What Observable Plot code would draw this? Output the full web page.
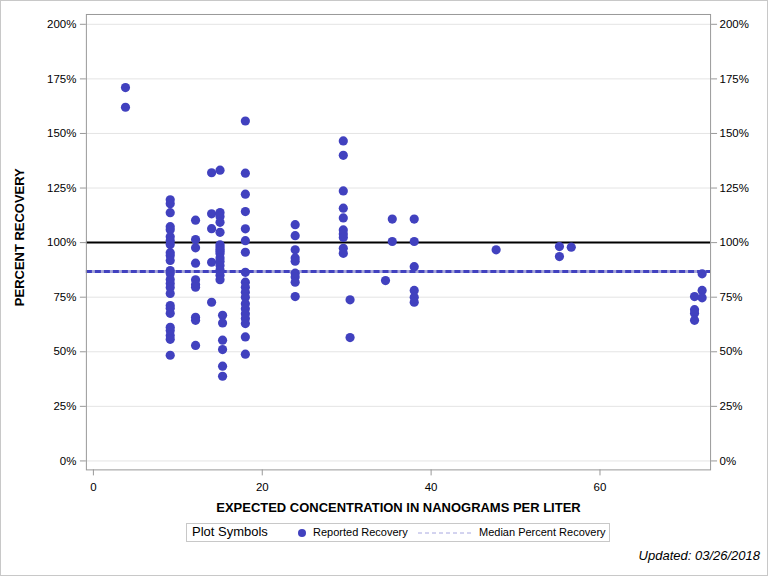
<!DOCTYPE html>
<html>
<head>
<meta charset="utf-8">
<script src="https://cdn.jsdelivr.net/npm/d3@7"></script>
<script src="https://cdn.jsdelivr.net/npm/@observablehq/plot@0.6"></script>
<style>
  html, body { margin: 0; padding: 0; background: #fff; }
  #wrap { position: relative; width: 766px; height: 574px; border: 1px solid #c8c8c8; overflow: hidden;
          font-family: "Liberation Sans", Arial, sans-serif; }
  #chart { position: absolute; left: -1px; top: -1px; }
  #legend { position: absolute; left: 185px; top: 522px; width: 422px; height: 17px; border: 1px solid #c8c8c8;
            font-size: 11px; color: #000; }
  #legend span { position: absolute; top: 2px; white-space: nowrap; }
  #updated { position: absolute; right: 7px; top: 547px; font-size: 13px; font-style: italic; color: #000; }
</style>
</head>
<body>
<div id="wrap">
  <div id="chart"></div>
  <div id="legend"></div>
  <div id="updated">Updated: 03/26/2018</div>
</div>
<script>
// ---- data ----
const concentrations = [3.8, 9.1, 12.1, 14.0, 15.0, 15.3, 18.0, 23.9, 29.6, 30.4, 34.6, 35.4, 38.0, 47.7, 55.2, 56.6, 71.2, 72.1];
const recoveries = [
  [171, 162],
  [119.6, 117.8, 113.7, 107.3, 105.9, 102.7, 100.9, 99.1, 95.4, 94.1, 91.8, 87.2, 85.8, 83.1, 81.3, 79.5, 76.7, 71.2, 69.9, 67.6, 61.2, 59.8, 57.5, 55.7, 48.4],
  [110.3, 101.4, 97.6, 90.6, 83, 80.8, 79.6, 65.8, 64.4, 52.9],
  [132, 113.2, 106.4, 91, 72.7],
  [133.2, 113.8, 112, 109.3, 104.7, 99, 98, 97, 96, 95, 93, 91.5, 89.5, 87.5, 85, 83],
  [66.7, 63.2, 55.3, 51, 43.4, 38.8],
  [155.7, 131.8, 122.2, 114.2, 106.3, 100.9, 95.6, 86.4, 81.9, 79.6, 77.3, 75, 72, 69.7, 67.4, 65.2, 62.9, 56.8, 48.9],
  [108.2, 103.2, 96.7, 93, 91.5, 86, 84.2, 81.9, 75.3],
  [146.6, 140, 123.7, 115.8, 111.3, 105.8, 104, 102.4, 97.4, 95.1],
  [73.8, 56.5],
  [82.6],
  [110.8, 100.5],
  [110.8, 100.5, 89, 78.1, 75, 72.7],
  [96.7],
  [98.2, 93.6],
  [97.9],
  [75.3, 69.3, 67.7, 64.4],
  [85.7, 78.1, 74.7]
];
const medianRecovery = 86.8;
const referenceRecovery = 100;
const xTicks = [0, 20, 40, 60];
const yTicks = [0, 25, 50, 75, 100, 125, 150, 175, 200];
const xTitle = "EXPECTED CONCENTRATION IN NANOGRAMS PER LITER";
const yTitle = "PERCENT RECOVERY";

const points = concentrations.flatMap((c, i) => recoveries[i].map(r => ({conc: c, rec: r})));

const blue = "#4141bf";
const font = "\"Liberation Sans\", Arial, sans-serif";

const chart = Plot.plot({
  width: 768,
  height: 516,
  marginLeft: 86,
  marginRight: 57,
  marginTop: 14,
  marginBottom: 46,
  style: {fontFamily: font, fontSize: "11.5px", color: "#000", background: "transparent"},
  x: {domain: [-0.83, 73.1]},
  y: {domain: [-4.1, 204.5]},
  marks: [
    Plot.gridY(yTicks, {stroke: "#e4e4e4", strokeOpacity: 1}),
    Plot.ruleY([referenceRecovery], {stroke: "#000", strokeWidth: 2}),
    Plot.ruleY([medianRecovery], {stroke: "#a8a8d8", strokeWidth: 3}),
    Plot.ruleY([medianRecovery], {stroke: blue, strokeWidth: 3, strokeDasharray: "6,3"}),
    Plot.dot(points, {x: "conc", y: "rec", r: 4.6, fill: blue, stroke: "none"}),
    Plot.frame({stroke: "#999"}),
    Plot.axisX(xTicks, {label: null, tickSize: 6, stroke: "#999", tickPadding: 7, fontSize: 11.5}),
    Plot.axisY(yTicks, {anchor: "left", label: null, tickSize: 6, stroke: "#999", tickPadding: 4, tickFormat: d => d + "%", fontSize: 11.5}),
    Plot.axisY(yTicks, {anchor: "right", label: null, tickSize: 6, stroke: "#999", tickFormat: d => d + "%", fontSize: 11.5}),
    Plot.text([xTitle], {frameAnchor: "bottom", dy: 42, fontWeight: "bold", fontSize: 13, fill: "#000"}),
    Plot.text([yTitle], {frameAnchor: "left", textAnchor: "middle", dx: -67, dy: -5, rotate: -90, fontWeight: "bold", fontSize: 13, fill: "#000"})
  ]
});
document.getElementById("chart").appendChild(chart);

// ---- legend ----
const legend = document.getElementById("legend");
legend.innerHTML = `
  <span style="left:5px; top:0px; font-size:13px;">Plot Symbols</span>
  <svg style="position:absolute; left:110px; top:4px;" width="12" height="10"><circle cx="5" cy="5" r="4" fill="${blue}"/></svg>
  <span style="left:126px;">Reported Recovery</span>
  <svg style="position:absolute; left:231px; top:8px;" width="54" height="2"><line x1="0" y1="1" x2="54" y2="1" stroke="#a8a8e0" stroke-width="1" stroke-dasharray="4,3"/></svg>
  <span style="left:292px;">Median Percent Recovery</span>`;
</script>
</body>
</html>
